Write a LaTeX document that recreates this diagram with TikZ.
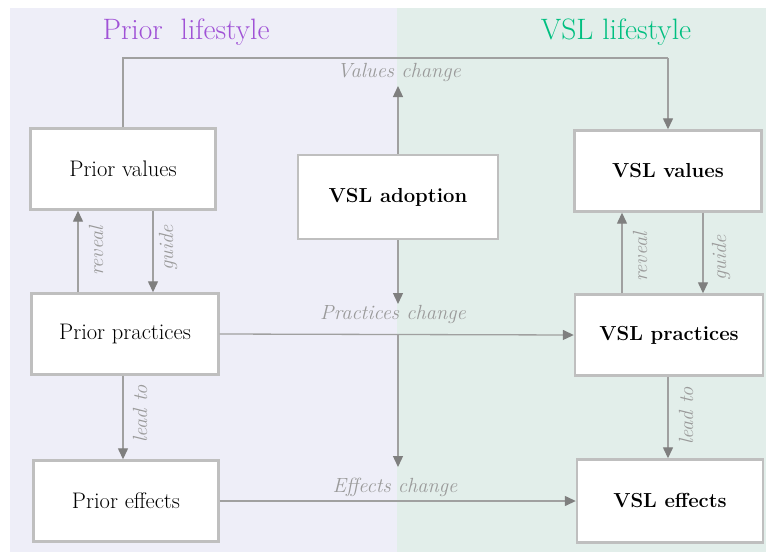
\documentclass[tikz,border=0pt]{standalone}
\usepackage{fontspec}
\setmainfont{Latin Modern Roman}
\usetikzlibrary{arrows.meta}
\definecolor{lav}{HTML}{EEEEF8}
\definecolor{mint}{HTML}{E2EEEA}
\definecolor{boxline}{HTML}{BFBFBF}
\definecolor{conline}{HTML}{A0A0A0}
\definecolor{tipcol}{HTML}{7F7F7F}
\definecolor{labcol}{HTML}{9A9A9A}
\definecolor{purp}{HTML}{A052D6}
\definecolor{grn}{HTML}{00BF80}
\tikzset{
  box/.style={draw=boxline, line width=2.4pt, fill=white, minimum width=185pt, minimum height=81pt, inner sep=0pt, font=\fontsize{22.5}{24}\selectfont},
  boldbox/.style={box, font=\fontsize{20.3}{22}\selectfont\bfseries},
  conn/.style={draw=conline, line width=1.3pt},
  arr/.style={conn, -{Triangle[length=11pt,width=10pt,color=tipcol]}},
  lab/.style={text=labcol, font=\fontsize{20.5}{22}\selectfont\itshape, inner sep=1pt},
  vlab/.style={lab, rotate=90},
  title/.style={font=\fontsize{29.5}{31}\selectfont}
}
\begin{document}
\begin{tikzpicture}[x=1pt,y=-1pt]
\useasboundingbox (0,0) rectangle (766,552);
\fill[lav] (10,8) rectangle (397,552);
\fill[mint] (397,8) rectangle (766,552);
\node[title, text=purp] (t1) at (186,32) {Prior\ \ lifestyle};
\node[title, text=grn] (t2) at (616,32) {VSL lifestyle};

\node[box] (pv) at (123,169) {Prior values};
\node[box, minimum width=187pt] (pp) at (125,334) {Prior practices};
\node[box] (pe) at (126,501) {Prior effects};
\node[boldbox, minimum width=200pt, minimum height=84pt] (va) at (398,197) {VSL adoption};
\node[boldbox, minimum width=187pt] (vv) at (668,171) {VSL values};
\node[boldbox, minimum width=188pt] (vp) at (669,335) {VSL practices};
\node[boldbox, minimum width=186pt, minimum height=83pt] (ve) at (670,501) {VSL effects};

\coordinate (top) at (0,58);
\draw[conn] (pv.north) -- (pv.north |- top) -- (vv.north |- top);
\draw[arr] (vv.north |- top) -- (vv.north);

\coordinate (vc) at (398,86);
\coordinate (pc) at (398,304);
\coordinate (ec) at (398,467);
\draw[arr] (va.north) -- (vc);
\draw[arr] (va.south) -- (pc);
\node[lab] (vcl) at (399,72) {Values change};
\node[lab] (pcl) at (393,314) {Practices change};
\node[lab] (ecl) at (395,487) {Effects change};

\draw[arr] (pp.east) -- (vp.west);
\coordinate (px) at (398,334.5);
\draw[arr] (px) -- (ec);
\draw[arr] (pe.east) -- (ve.west);

% prior column
\draw[arr] ([xshift=-47pt]pp.north) -- ([xshift=-45pt]pv.south);
\draw[arr] ([xshift=30pt]pv.south) -- ([xshift=28pt]pp.north);
\draw[arr] ([xshift=-2pt]pp.south) -- ([xshift=-3pt]pe.north);
\node[vlab] (l1) at (96,251) {reveal};
\node[vlab] (l2) at (168,248) {guide};
\node[vlab] (l3) at (140,414) {lead to};

% VSL column
\draw[arr] ([xshift=-47pt]vp.north) -- ([xshift=-46pt]vv.south);
\draw[arr] ([xshift=35pt]vv.south) -- ([xshift=34pt]vp.north);
\draw[arr] ([xshift=-1pt]vp.south) -- ([xshift=-2pt]ve.north);
\node[vlab] (l4) at (640,257) {reveal};
\node[vlab] (l5) at (721,258) {guide};
\node[vlab] (l6) at (686,416) {lead to};
\end{tikzpicture}
\end{document}
